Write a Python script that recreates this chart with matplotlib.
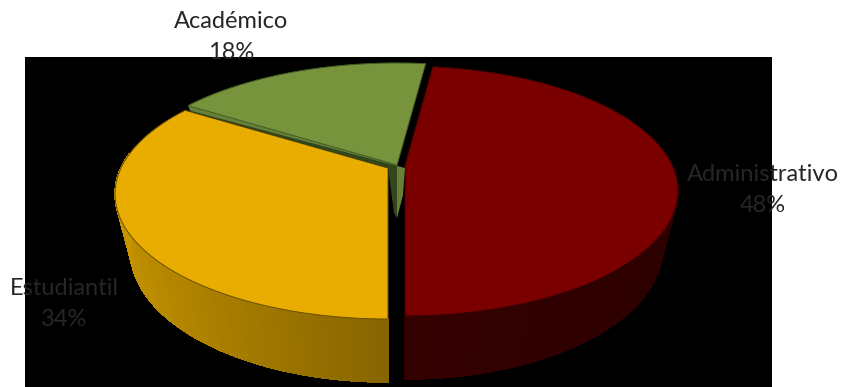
# Pie chart with a tilted 3D look, drawn by hand because matplotlib has no 3D pie
import numpy as np
import matplotlib
matplotlib.use('Agg')
import matplotlib.pyplot as plt
from matplotlib.patches import Polygon, Rectangle
from matplotlib.collections import PolyCollection
from matplotlib.colors import to_rgb

# Data
labels = ['Administrativo', 'Estudiantil', 'Académico']
values = [48, 34, 18]
colors = ['#7a0000', '#e8ad00', '#77933c']

K = 0.208  # perspective strength
START = 82.8

# apex position and size of each slice, in pixels
apex_x = [405, 388, 397]
apex_y = [165, 168, 165]
scale = [1.0, 1.0, 1.03]
label_xy = [(763, 190), (64, 304), (231, 37)]


def top_face(t, x0, y0, s):
    X, Y = np.cos(t), np.sin(t)
    d = 1 + K * Y
    return x0 + s * 267 * X / d, y0 - s * 119.6 * Y / d


def low_face(t, x0, y0, s):
    X, Y = np.cos(t), np.sin(t)
    d = 1 + K * Y
    return x0 + s * 252 * X / d, y0 + 55 - s * 126 * Y / d


def mix(c, f):
    return tuple(v * f for v in to_rgb(c))


fig = plt.figure(figsize=(8.42, 3.87), dpi=100)
ax = fig.add_axes([0, 0, 1, 1])
ax.set_xlim(0, 842)
ax.set_ylim(387, 0)
ax.axis('off')

ax.add_patch(Rectangle((25, 57), 747, 330, fc='black', ec='none', zorder=0))

angle = START
prev_end = None
for i, v in enumerate(values):
    sweep = v / sum(values) * 360
    a0, a1 = np.radians(angle), np.radians(angle - sweep)
    t = np.linspace(a0, a1, 160)
    x0, y0 = apex_x[i], apex_y[i]
    xt, yt = top_face(t, x0, y0, scale[i])
    xb, yb = low_face(t, x0, y0, scale[i])

    # outer wall, shaded strip by strip
    quads, cols = [], []
    for j in range(len(t) - 1):
        if np.sin(t[j]) > 0.12:
            continue
        quads.append([(xt[j], yt[j]), (xt[j + 1], yt[j + 1]),
                      (xb[j + 1], yb[j + 1]), (xb[j], yb[j])])
        X = np.cos(t[j])
        if i == 0:
            f = 0.42 - 0.06 * abs(X)
        else:
            f = 0.58 + 0.28 * abs(X)
        cols.append(mix(colors[i], f))
    if quads:
        ax.add_collection(PolyCollection(quads, facecolors=cols, edgecolors=cols,
                                         linewidths=0.5, antialiaseds=False, zorder=2))

    ax.add_patch(Polygon(list(zip(xt, yt)) + [(x0, y0)], fc=colors[i],
                         ec=mix(colors[i], 0.45), lw=0.7, zorder=3))

    # cut faces of the green slice, the dark one runs down to the yellow edge
    if i == 2:
        ax.add_patch(Polygon([(xt[-1], yt[-1]), (x0, y0), (x0, y0 + 53), (x0 - 3, y0 + 48),
                              (apex_x[1], apex_y[1]), (prev_end[0] + 5, prev_end[1] + 1)],
                             fc='#33451a', ec='none', zorder=4))
        ax.add_patch(Polygon([(x0, y0), (xt[0], yt[0]), (xt[0] + 2, yt[0] + 5),
                              (x0 + 8, y0 + 3), (x0 + 6, y0 + 30), (x0, y0 + 53)],
                             fc='#66803a', ec='none', zorder=4))
        ax.add_patch(Polygon(list(zip(xt, yt)) + [(x0, y0)], fc=colors[i],
                             ec='#3f5a20', lw=0.6, zorder=5))
    prev_end = (xt[-1], yt[-1])
    angle -= sweep

for i, (x, y) in enumerate(label_xy):
    ax.text(x, y, f'{labels[i]}\n{values[i]}%', ha='center', va='center', fontsize=17,
            family='Lato', color='#262626', linespacing=1.58, zorder=6)

fig.savefig('out.png', dpi=100)
